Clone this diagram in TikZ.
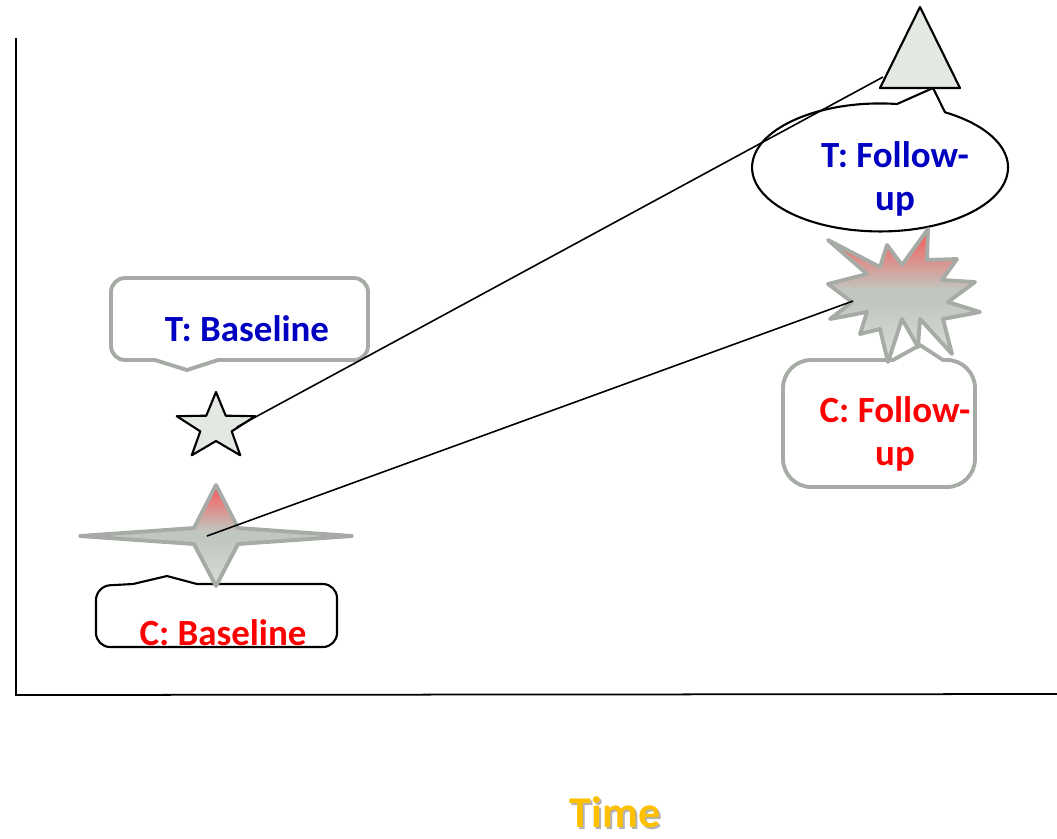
\documentclass[tikz,border=0pt]{standalone}
\usepackage{fontspec}
\setmainfont{Carlito}

\definecolor{tblue}{RGB}{0,0,192}
\definecolor{cred}{RGB}{255,0,0}
\definecolor{timegold}{RGB}{255,192,0}
\definecolor{edgegray}{RGB}{166,172,165}
\definecolor{shapefill}{RGB}{227,232,226}
\definecolor{burstred}{RGB}{244,96,96}
\definecolor{burstmid}{RGB}{192,199,191}
\definecolor{burstlow}{RGB}{216,224,215}
\pgfdeclareverticalshading{burstfade}{100bp}{color(0bp)=(burstlow); color(25bp)=(burstlow); color(48bp)=(burstmid); color(52bp)=(burstmid); color(73bp)=(burstred); color(100bp)=(burstred)}

\begin{document}
\begin{tikzpicture}[x=0.01cm,y=-0.01cm,
  grayline/.style={draw=edgegray,line width=1.1pt,line join=round},
  blackline/.style={draw=black,line width=0.6pt,line join=round},
  redfade/.style={shading=burstfade},
  tlabel/.style={text=tblue,align=center},
  clabel/.style={text=cred,align=center}]
\tikzstyle{every node}+=[inner sep=0pt,font=\fontsize{10.5}{12}\selectfont\bfseries]
\useasboundingbox (0,0) rectangle (1057,838);
\draw [black, line width=0.5pt] (16,38) -- (16,695) -- (1057,694);
\draw [grayline, fill=white] (187,370) -- (155,360) [rounded corners=4pt] -- (111,360) -- (111,278) -- (368,278) -- (368,360) [sharp corners] -- (218,360) -- cycle;
\node [tlabel, anchor=base] (tbaselabel) at (247,341) {T: Baseline};
\draw [blackline, fill=shapefill, shift={(216,427)}, xscale=1.18] (-90:35) \foreach \k in {1,...,9} {-- ({-90+36*\k}:{mod(\k,2)==0 ? 35 : 14})} -- cycle;
\draw [blackline, fill=white] (167,576) -- (197,584) [rounded corners=4pt] -- (337,584) -- (337,647) -- (96,647) -- (96,586) [sharp corners] -- (133,584) -- cycle;
\draw [grayline, redfade] (216,485) -- (238,528) -- (352,536) -- (238,544) -- (216,586) -- (194,544) -- (80,536) -- (194,528) -- cycle;
\node [clabel, anchor=base] (cbaselabel) at (223,645) {C: Baseline};
\draw [blackline, fill=white] (897,104) arc [start angle=-82.4, end angle=-419.5, x radius=128, y radius=64] -- (933,88) -- cycle;
\node [tlabel] (tfollowlabel) at (895,179) {T: Follow-\\up};
\draw [blackline, fill=shapefill] (880,88) -- (920,7) -- (960,88) -- cycle;
\draw [grayline, redfade] (828,240) -- (880,267) -- (887,245) -- (902,265) -- (928,229) -- (927,260) -- (957,259) -- (942,280) -- (975,282) -- (948,302) -- (980,312) -- (943,319) -- (952,354) -- (920,319) -- (918,347) -- (902,319) -- (888,362) -- (880,329) -- (860,334) -- (867,312) -- (830,319) -- (852,302) -- (828,284) -- (867,274) -- cycle;
\draw [grayline] (920,345) -- (943,360) [rounded corners=8pt] -- (975,360) -- (975,487) -- (783,487) -- (783,360) [sharp corners] -- (893,360) -- cycle;
\node [clabel] (cfollowlabel) at (895,434) {C: Follow-\\up};
\node [text=black!30, font=\fontsize{12.5}{14}\selectfont\bfseries, anchor=base] (timeshadow) at (617,829) {Time};
\node [text=timegold, font=\fontsize{12.5}{14}\selectfont\bfseries, anchor=base] (timelabel) at (615,827) {Time};
\coordinate (tbase) at (237,427);
\coordinate (tfollow) at (883,77);
\coordinate (cbase) at (207,536);
\coordinate (cfollow) at (853,301);
\draw [black, line width=0.45pt] (tbase) -- (tfollow);
\draw [black, line width=0.45pt] (cbase) -- (cfollow);
\end{tikzpicture}
\end{document}
